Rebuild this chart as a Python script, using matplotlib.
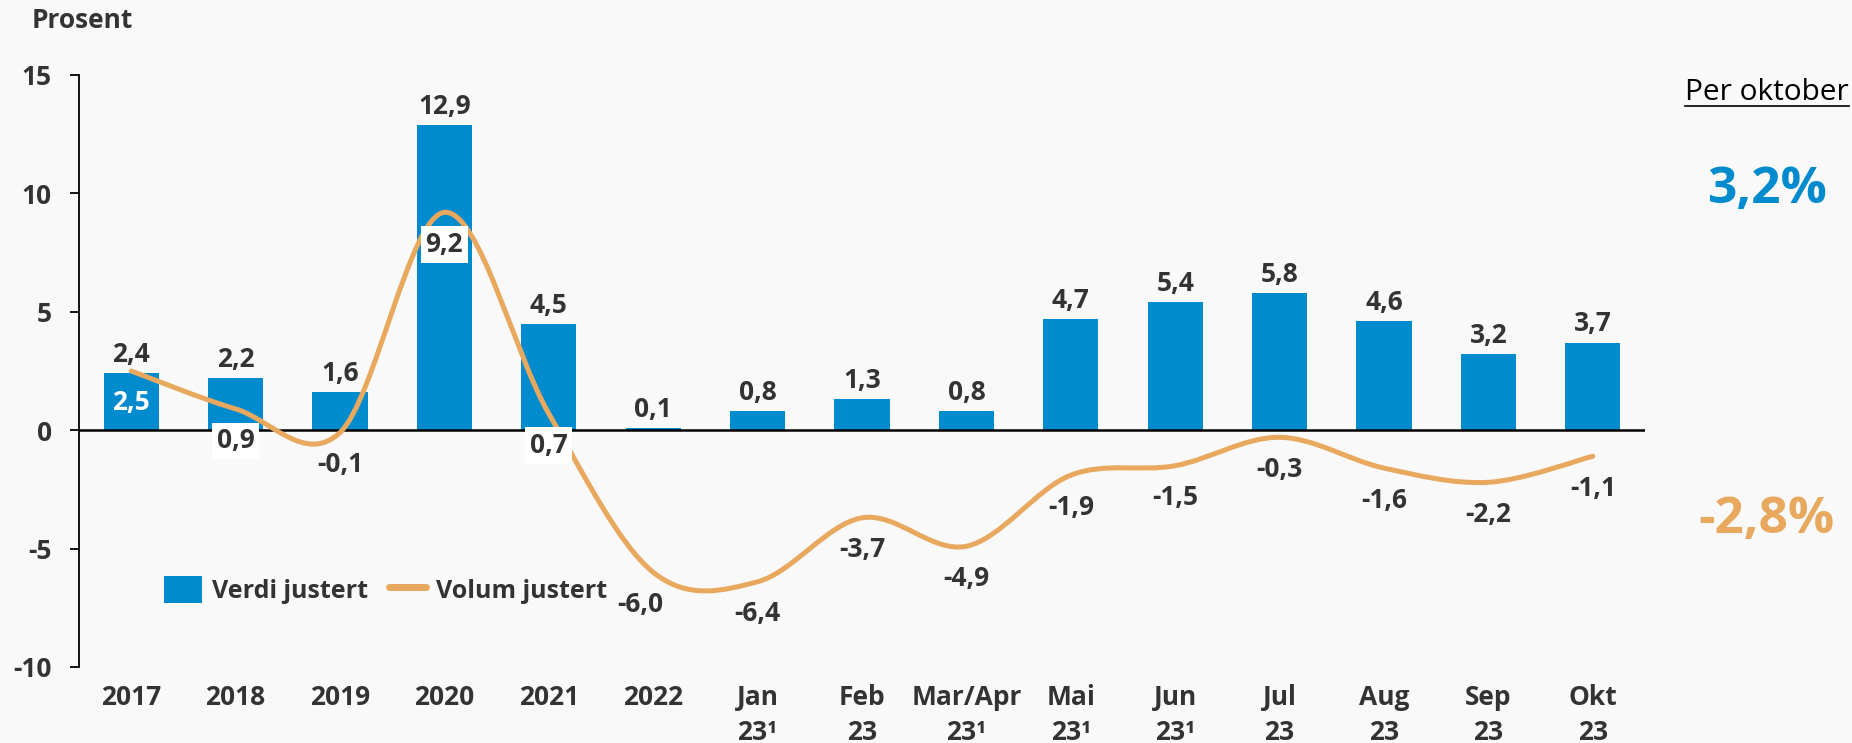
import matplotlib
matplotlib.use('Agg')
import matplotlib.pyplot as plt
import numpy as np
from matplotlib.path import Path
from matplotlib.patches import PathPatch, Patch
from matplotlib.lines import Line2D

# ---------------- data ----------------
categories = ['2017', '2018', '2019', '2020', '2021', '2022', 'Jan\n23¹', 'Feb\n23',
              'Mar/Apr\n23¹', 'Mai\n23¹', 'Jun\n23¹', 'Jul\n23', 'Aug\n23', 'Sep\n23', 'Okt\n23']
verdi = [2.4, 2.2, 1.6, 12.9, 4.5, 0.1, 0.8, 1.3, 0.8, 4.7, 5.4, 5.8, 4.6, 3.2, 3.7]
volum = [2.5, 0.9, -0.1, 9.2, 0.7, -6.0, -6.4, -3.7, -4.9, -1.9, -1.5, -0.3, -1.6, -2.2, -1.1]
yticks = [-10, -5, 0, 5, 10, 15]
series_names = ['Verdi justert', 'Volum justert']
y_title = 'Prosent'
side_title = 'Per oktober'
verdi_ytd = '3,2%'
volum_ytd = '-2,8%'

# ---------------- style ----------------
BLUE = '#008BCE'
ORANGE = '#E8A85E'
DARK = '#333333'
BG = '#F9F9F9'
FONT = 'Open Sans'
FS = 19
plt.rcParams['font.family'] = [FONT, 'DejaVu Sans']

W, H = 1852, 743
fig = plt.figure(figsize=(W / 100, H / 100), dpi=100, facecolor=BG)
ax = fig.add_axes([79 / W, 1 - 667 / H, (1645 - 79) / W, (667 - 75) / H])
ax.set_facecolor(BG)

x = np.arange(len(categories), dtype=float)
ax.bar(x, verdi, width=0.53, color=BLUE, zorder=2)
ax.axhline(0, color='black', lw=1.8, zorder=2.5)

# smoothed line (Catmull-Rom style Bezier, like a spreadsheet "smooth line")
pts = np.column_stack([x, np.array(volum, dtype=float)])
ext = np.vstack([pts[0], pts, pts[-1]])
verts = [pts[0]]
codes = [Path.MOVETO]
for i in range(len(pts) - 1):
    p0 = ext[i + 1]
    p3 = ext[i + 2]
    c1 = p0 + (ext[i + 2] - ext[i]) / 6.0
    c2 = p3 - (ext[i + 3] - ext[i + 1]) / 6.0
    verts += [c1, c2, p3]
    codes += [Path.CURVE4] * 3
ax.add_patch(PathPatch(Path(verts, codes), fill=False, edgecolor=ORANGE,
                       lw=3.6, zorder=3, capstyle='round', joinstyle='round'))

def fmt(v):
    return f'{v:.1f}'.replace('.', ',')

# bar labels (above bars)
for xi, v in zip(x, verdi):
    ax.annotate(fmt(v), (xi, v), xytext=(0, 8), textcoords='offset points',
                ha='center', va='baseline', fontsize=FS, fontweight='bold', color=DARK, zorder=5)

# line labels (below points)
boxed = {1, 3, 4}
white_text = {0}
x_shift = {5: -9}
for i, (xi, v) in enumerate(zip(x, volum)):
    kw = {}
    if i in boxed:
        kw['bbox'] = dict(boxstyle='square,pad=0.18', fc='white', ec='none')
    ax.annotate(fmt(v), (xi, v), xytext=(x_shift.get(i, 0), -23), textcoords='offset points',
                ha='center', va='center', fontsize=FS, fontweight='bold',
                color='white' if i in white_text else DARK, zorder=6, **kw)

# axes styling
ax.set_xlim(-0.5, len(categories) - 0.5)
ax.set_ylim(min(yticks), max(yticks))
ax.set_yticks(yticks)
ax.set_yticklabels([str(t) for t in yticks])
ax.set_xticks(x)
ax.set_xticklabels(categories, linespacing=1.42, va='top')
for s in ['top', 'right', 'bottom']:
    ax.spines[s].set_visible(False)
ax.spines['left'].set_color('black')
ax.spines['left'].set_linewidth(1.3)
ax.tick_params(axis='y', length=6.5, width=1.3, direction='out', pad=13,
               labelsize=FS, labelcolor=DARK)
ax.tick_params(axis='x', length=0, pad=12, labelsize=FS, labelcolor=DARK)
for lab in ax.get_xticklabels() + ax.get_yticklabels():
    lab.set_fontweight('bold')

# legend
handles = [Patch(facecolor=BLUE, edgecolor='none', label=series_names[0]),
           Line2D([0], [0], color=ORANGE, lw=5, solid_capstyle='round', label=series_names[1])]
leg = ax.legend(handles=handles, ncol=2, frameon=False, loc='center left',
                bbox_to_anchor=(0.04, 0.13), handlelength=1.5, handleheight=1.25,
                handletextpad=0.4, columnspacing=0.85,
                prop={'family': FONT, 'weight': 'bold', 'size': 18})
for t in leg.get_texts():
    t.set_color(DARK)

# titles and side annotations
fig.text(32 / W, 1 - 21 / H, y_title, ha='left', va='center', fontsize=FS,
         fontweight='bold', color=DARK)
cx = 1767 / W
t_side = fig.text(cx, 1 - 92 / H, side_title, ha='center', va='center',
                  fontsize=21.5, color='black')
fig.text(cx, 1 - 190 / H, verdi_ytd, ha='center', va='center', fontsize=37,
         fontweight='bold', color=BLUE)
fig.text(cx, 1 - 520 / H, volum_ytd, ha='center', va='center', fontsize=37,
         fontweight='bold', color=ORANGE)

# underline for side title
fig.canvas.draw()
bb = t_side.get_window_extent(renderer=fig.canvas.get_renderer())
uy = (bb.y0 + 1) / H
fig.add_artist(Line2D([bb.x0 / W, bb.x1 / W], [uy, uy], color='black', lw=1.2,
                      transform=fig.transFigure))

fig.savefig('out.png', dpi=100, facecolor=BG)
